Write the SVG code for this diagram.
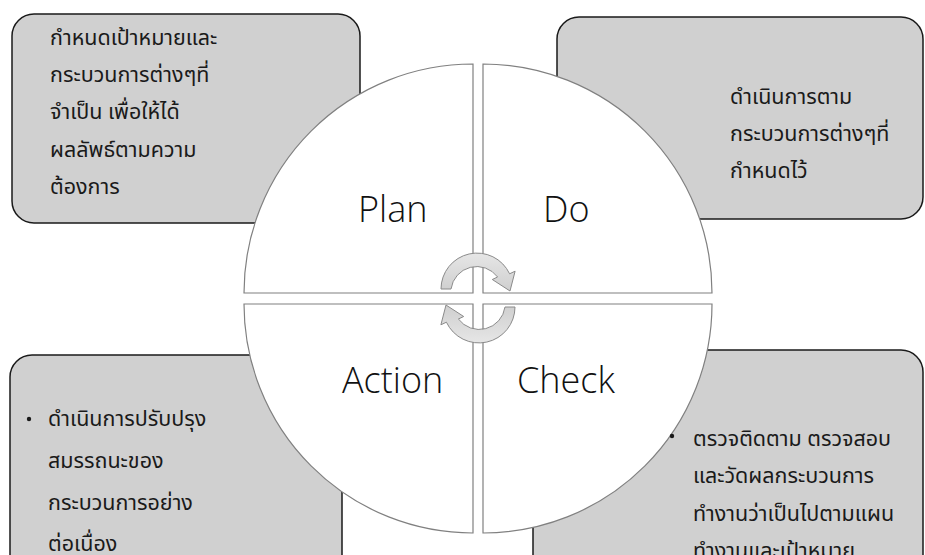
<svg xmlns="http://www.w3.org/2000/svg" width="925" height="555" viewBox="0 0 925 555">
<style>
.box{fill:#d0d0d0;stroke:#1a1a1a;stroke-width:1.5}
.q{fill:#ffffff;stroke:#808080;stroke-width:1.2}
.th{font-family:"Noto Sans Thai","Noto Sans","DejaVu Sans",sans-serif;font-size:21.5px;fill:#1a1a1a}
.lbl{font-family:"Open Sans","Noto Sans",sans-serif;font-weight:300;font-size:36px;fill:#111}
.arr{fill:url(#ag);stroke:#8a8a8a;stroke-width:1}
</style>
<defs>
<linearGradient id="ag" x1="0" y1="0" x2="0" y2="1">
<stop offset="0" stop-color="#e6e6e6"/>
<stop offset="1" stop-color="#cfcfcf"/>
</linearGradient>
</defs>
<rect width="925" height="555" fill="#ffffff"/>
<g id="box-plan"><rect class="box" x="12" y="14" width="348" height="209" rx="22"/></g>
<g id="box-do"><rect class="box" x="557" y="17" width="366" height="202" rx="22"/></g>
<g id="box-action"><rect class="box" x="10" y="355" width="332" height="250" rx="22"/></g>
<g id="box-check"><rect class="box" x="533" y="350" width="390" height="250" rx="22"/></g>
<g id="q-plan"><path class="q" d="M473,293 L244,293 A229,229 0 0 1 473,64 Z"/><text class="lbl" x="358" y="222">Plan</text></g>
<g id="q-do"><path class="q" d="M483,293 L483,64 A229,229 0 0 1 712,293 Z"/><text class="lbl" x="543" y="222">Do</text></g>
<g id="q-check"><path class="q" d="M483,304 L712,304 A229,229 0 0 1 483,533 Z"/><text class="lbl" x="517" y="393">Check</text></g>
<g id="q-action"><path class="q" d="M473,304 L473,533 A229,229 0 0 1 244,304 Z"/><text class="lbl" x="342" y="393">Action</text></g>
<g id="connectors">
<path id="arrow-top" class="arr" d="M441,289 A36,36 0 0 1 509.6,273.8 L515.1,271.2 L510,291 L492.3,279.5 L497.6,277 A26,26 0 0 0 451,289 Z"/>
<use href="#arrow-top" transform="rotate(180 478 298)"/>
</g>
<g id="text-plan" class="th">
<text x="50" y="45">กำหนดเป้าหมายและ</text>
<text x="50" y="82">กระบวนการต่างๆที่</text>
<text x="50" y="119">จำเป็น เพื่อให้ได้</text>
<text x="50" y="157">ผลลัพธ์ตามความ</text>
<text x="50" y="194">ต้องการ</text>
</g>
<g id="text-do" class="th">
<text x="730" y="104">ดำเนินการตาม</text>
<text x="730" y="141">กระบวนการต่างๆที่</text>
<text x="730" y="178">กำหนดไว้</text>
</g>
<g id="text-action" class="th">
<circle cx="29" cy="419" r="2.2" fill="#1a1a1a"/>
<text x="48" y="426">ดำเนินการปรับปรุง</text>
<text x="48" y="468">สมรรถนะของ</text>
<text x="48" y="510">กระบวนการอย่าง</text>
<text x="48" y="551">ต่อเนื่อง</text>
</g>
<g id="text-check" class="th">
<circle cx="672" cy="436" r="2.2" fill="#1a1a1a"/>
<text x="693" y="446">ตรวจติดตาม ตรวจสอบ</text>
<text x="693" y="483">และวัดผลกระบวนการ</text>
<text x="693" y="521">ทำงานว่าเป็นไปตามแผน</text>
<text x="693" y="558">ทำงานและเป้าหมาย</text>
</g>
</svg>
